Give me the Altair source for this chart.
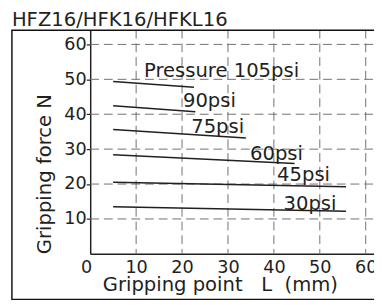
import altair as alt
import pandas as pd

# ---- data ----
series = ["105psi", "90psi", "75psi", "60psi", "45psi", "30psi"]
x_start = [5, 5, 5, 5, 5, 5]
x_end = [22.6, 22.9, 33.9, 44.5, 55.7, 55.7]
y_start = [49.4, 42.4, 35.6, 28.4, 20.5, 13.5]
y_end = [47.7, 40.7, 33.2, 25.9, 19.2, 12.2]

label_text = ["Pressure 105psi", "90psi", "75psi", "60psi", "45psi", "30psi"]
label_x = [11.7, 20.2, 22.0, 34.8, 40.7, 42.1]
label_y = [50.8, 42.1, 34.7, 26.8, 20.9, 12.7]

x_ticks = [0, 10, 20, 30, 40, 50, 60]
y_ticks = [10, 20, 30, 40, 50, 60]
x_grid = [10, 20, 30, 40, 50, 60]
y_grid = [10, 20, 30, 40, 50, 60]

chart_title = "HFZ16/HFK16/HFKL16"
x_title = "Gripping point\u00a0\u00a0\u00a0L\u00a0\u00a0(mm)"
y_title = "Gripping force N"

FONT = "DejaVu Sans"
INK = "#231f20"
GRID = "#707070"

rows = []
for s, xs, xe, ys, ye in zip(series, x_start, x_end, y_start, y_end):
    rows.append({"series": s, "x": xs, "y": ys})
    rows.append({"series": s, "x": xe, "y": ye})
lines_df = pd.DataFrame(rows)
labels_df = pd.DataFrame({"text": label_text, "x": label_x, "y": label_y})
xgrid_df = pd.DataFrame({"x": x_grid})
ygrid_df = pd.DataFrame({"y": y_grid})
one = pd.DataFrame({"a": [0]})

xscale = alt.Scale(domain=[0, 61.8], nice=False, zero=False)
yscale = alt.Scale(domain=[0, 64.2], nice=False, zero=False)

x_axis = alt.Axis(
    values=x_ticks, title=x_title, grid=False, ticks=False, labelPadding=5,
    labelFontSize=18,
    labelOffset={"condition": {"test": "datum.value === 0", "value": -10}, "value": 0},
    titleFontSize=20, titleX=132.5, titleY=37, titleBaseline="alphabetic",
    titleAlign="center", titleAnchor="start",
)
y_axis = alt.Axis(
    values=y_ticks, title=y_title, grid=False, tickSize=4, tickWidth=1.2,
    labelPadding=0, labelFontSize=18,
    titleFontSize=20, titleX=-47, titleY=147, titleAngle=270,
    titleAlign="center", titleBaseline="middle", titleAnchor="start",
)

vgrid = alt.Chart(xgrid_df).mark_rule(
    color=GRID, strokeWidth=1, strokeDash=[9, 5]
).encode(x=alt.X("x:Q", scale=xscale, axis=x_axis), y=alt.value(0), y2=alt.value(229))

hgrid = alt.Chart(ygrid_df).mark_rule(
    color=GRID, strokeWidth=1, strokeDash=[9, 5]
).encode(y=alt.Y("y:Q", scale=yscale, axis=y_axis), x=alt.value(0), x2=alt.value(290))

lines = alt.Chart(lines_df).mark_line(color=INK, strokeWidth=1.5).encode(
    x=alt.X("x:Q", scale=xscale, axis=x_axis),
    y=alt.Y("y:Q", scale=yscale, axis=y_axis),
    detail="series:N",
)

labels = alt.Chart(labels_df).mark_text(
    align="left", baseline="alphabetic", font=FONT, fontSize=20, color=INK
).encode(
    x=alt.X("x:Q", scale=xscale, axis=x_axis),
    y=alt.Y("y:Q", scale=yscale, axis=y_axis),
    text="text:N",
)

frame = alt.Chart(one).mark_rect(
    filled=False, stroke="#111111", strokeWidth=1.5
).encode(
    x=alt.value(-80), x2=alt.value(320), y=alt.value(0.5), y2=alt.value(275.5)
)

title = alt.Chart(one).mark_text(
    align="left", baseline="alphabetic", font=FONT, fontSize=20, color=INK,
    text=chart_title,
).encode(x=alt.value(-80), y=alt.value(-4))

chart = alt.layer(vgrid, hgrid, lines, labels, frame, title).properties(
    width=290, height=229,
    autosize=alt.AutoSizeParams(type="none"),
    padding={"left": 84, "top": 19, "right": 0, "bottom": 48},
).configure_view(stroke=None).configure_axis(
    labelFont=FONT, titleFont=FONT, labelColor=INK, titleColor=INK,
    titleFontWeight="normal", domainColor=INK, domainWidth=1.5, tickColor=INK,
)

chart.save("out.html", embed_options={"renderer": "svg", "actions": False})
